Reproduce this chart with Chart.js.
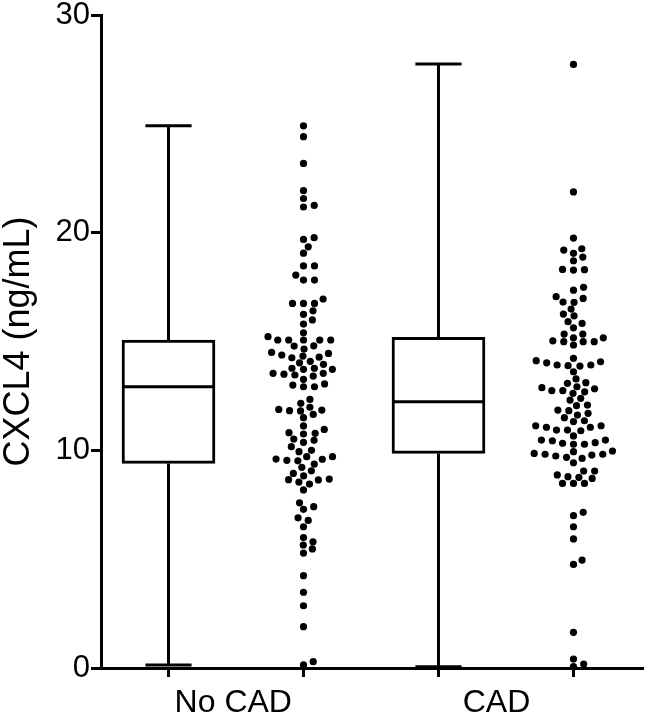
<!DOCTYPE html>
<html>
<head>
<meta charset="utf-8">
<script src="https://cdn.jsdelivr.net/npm/chart.js@4.4.1/dist/chart.umd.min.js"></script>
<style>
  html, body { margin: 0; padding: 0; background: #fff; }
  #wrap { width: 647px; height: 716px; }
</style>
</head>
<body>
<div id="wrap"><canvas id="grafico" width="647" height="716"></canvas></div>
<script>
// groups and box plot summaries (ng/mL)
const grupos = ['No CAD', 'CAD'];
const minimos = [0.14, 0.06];
const quartil1 = [9.40, 9.86];
const medianas = [12.92, 12.23];
const quartil3 = [15.07, 15.19];
const maximos = [24.91, 27.75];

// individual values
const pontosSemCad = [
    24.91, 24.41, 23.18, 21.93, 21.57, 21.25, 21.18,
    19.69, 19.77, 19.35, 19.06, 18.47, 18.47, 18.05, 17.82, 17.82,
    16.95, 16.75, 16.75, 16.75, 16.41, 16.25, 15.99, 15.80, 15.40, 15.22,
    15.07, 15.07, 15.07, 15.07, 15.07, 14.79, 14.80, 14.65, 14.50, 14.45, 14.33, 14.25, 14.28, 14.38,
    14.02, 13.95, 14.09, 13.77, 13.72, 13.72, 13.77,
    13.54, 13.46, 13.41, 13.50, 13.54, 13.26,
    13.05, 12.92, 12.92, 13.00, 12.34,
    12.16, 11.88, 11.82, 11.65, 11.50, 11.81, 11.85, 11.98,
    11.12, 10.81, 10.75, 10.96, 10.78, 10.52, 10.46, 10.37, 10.17,
    9.94, 10.00, 9.59, 9.54, 9.71, 9.71, 9.52, 9.60, 9.37, 9.22, 9.06, 8.94,
    8.64, 8.45, 8.68, 8.83, 8.54, 8.65, 8.18,
    7.59, 7.29, 7.41, 6.78, 6.90, 6.49,
    5.80, 5.99, 5.65, 5.47, 5.28,
    4.24, 3.48, 2.86, 1.90, 0.14, 0.29
];
const pontosCad = [
    27.73, 21.87, 19.75,
    19.20, 18.88, 19.05, 19.26, 18.71,
    18.30, 18.28, 18.31, 17.49, 17.36,
    16.98, 16.80, 17.06, 16.81, 16.49, 16.26, 16.18,
    15.83, 15.91, 15.63, 15.34, 15.34,
    15.17, 15.03, 14.99, 14.84, 14.99, 14.99, 15.17,
    14.23, 14.07, 13.92, 13.87, 14.12, 13.92, 13.89, 14.02,
    13.61, 13.28,
    13.08, 12.88, 12.74, 12.69, 12.62, 12.74, 12.83, 12.92, 13.11,
    12.31, 12.39, 12.05, 12.08,
    11.82, 11.62, 11.50, 11.70, 11.85,
    11.36, 11.13, 11.06, 10.93, 10.90, 10.93, 11.06, 11.13, 11.32,
    10.66, 10.47, 10.32, 10.28, 10.28, 10.35, 10.44, 10.47,
    9.97, 9.82, 9.78, 9.74, 9.63, 9.68, 9.43, 9.82, 9.86, 9.94,
    9.05, 9.05,
    8.87, 8.76, 8.48, 8.48, 8.48, 8.71, 8.79,
    7.15, 7.00, 6.49, 5.93, 4.76, 4.96,
    1.64, 0.41, 0.06, 0.18
];
const pontos = [pontosSemCad, pontosCad];

// where things sit on the x axis
const posCaixa = [1, 3];
const posPontos = [2, 4];
const posRotulo = [1.48, 3.43];
const meiaCaixa = 0.33;
const meiaTampa = 0.171;

const fonte = '"Liberation Sans", Arial, sans-serif';

function dadosBigodes() {
    const d = [];
    for (let i = 0; i < grupos.length; i++) {
        const p = posCaixa[i];
        d.push({ x: p, y: maximos[i] }, { x: p, y: quartil3[i] }, { x: p, y: null });
        d.push({ x: p, y: quartil1[i] }, { x: p, y: minimos[i] }, { x: p, y: null });
        d.push({ x: p - meiaTampa, y: maximos[i] }, { x: p + meiaTampa, y: maximos[i] }, { x: p, y: null });
        d.push({ x: p - meiaTampa, y: minimos[i] }, { x: p + meiaTampa, y: minimos[i] }, { x: p, y: null });
    }
    return d;
}

function dadosMedianas() {
    const d = [];
    for (let i = 0; i < grupos.length; i++) {
        const p = posCaixa[i];
        d.push({ x: p - meiaCaixa, y: medianas[i] }, { x: p + meiaCaixa, y: medianas[i] }, { x: p, y: null });
    }
    return d;
}

// beeswarm: push each dot sideways just enough to not overlap
function espalhar(valores, centro, escalaX, escalaY) {
    const dx = 11, dy = 7;
    const colocados = [];
    const ordem = valores.map((v, i) => i).sort((a, b) => valores[a] - valores[b]);
    const saida = [];
    const cx = escalaX.getPixelForValue(centro);
    for (const i of ordem) {
        const py = escalaY.getPixelForValue(valores[i]);
        const perto = colocados.filter(p => Math.abs(p.y - py) < dy);
        const candidatos = [0];
        perto.forEach(p => {
            const t = (p.y - py) / dy;
            const w = dx * Math.sqrt(1 - t * t);
            candidatos.push(p.x + w, p.x - w);
        });
        candidatos.sort((a, b) => Math.abs(a) - Math.abs(b));
        const x = candidatos.find(c => perto.every(p => ((p.x - c) / dx) ** 2 + ((p.y - py) / dy) ** 2 >= 0.999));
        colocados.push({ x: x, y: py });
        saida[i] = { x: escalaX.getValueForPixel(cx + x), y: valores[i] };
    }
    return saida;
}

const ctx = document.getElementById('grafico').getContext('2d');

const grafico = new Chart(ctx, {
    type: 'scatter',
    data: {
        datasets: [
            {
                type: 'bar',
                label: 'caixa',
                data: grupos.map((g, i) => ({ x: posCaixa[i], y: [quartil1[i], quartil3[i]] })),
                backgroundColor: '#ffffff',
                borderColor: '#000000',
                borderWidth: 3,
                borderSkipped: false,
                barThickness: 93,
                order: 3
            },
            {
                type: 'line',
                label: 'bigodes',
                data: dadosBigodes(),
                showLine: true,
                spanGaps: false,
                borderColor: '#000000',
                borderWidth: 3,
                pointRadius: 0,
                clip: false,
                order: 4
            },
            {
                type: 'line',
                label: 'medianas',
                data: dadosMedianas(),
                showLine: true,
                spanGaps: false,
                borderColor: '#000000',
                borderWidth: 3,
                pointRadius: 0,
                order: 2
            },
            {
                label: 'pontos',
                data: pontos.flatMap((vals, i) => vals.map(v => ({ x: posPontos[i], y: v }))),
                backgroundColor: '#000000',
                borderWidth: 0,
                pointRadius: 3.6,
                clip: false,
                order: 1
            }
        ]
    },
    options: {
        responsive: false,
        animation: false,
        layout: { padding: { top: 15, right: 0, bottom: 0, left: 0 } },
        plugins: {
            legend: { display: false },
            tooltip: { enabled: false }
        },
        scales: {
            x: {
                type: 'linear',
                position: 'bottom',
                min: 0.5,
                max: 4.515,
                offset: false,
                weight: 0,
                afterBuildTicks: s => { s.ticks = posCaixa.concat(posPontos).sort().map(v => ({ value: v })); },
                ticks: { display: false },
                grid: { offset: false, drawOnChartArea: false, drawTicks: true, tickLength: 9, tickWidth: 3, color: '#000000' },
                border: { display: true, width: 3, color: '#000000' }
            },
            rotulos: {
                type: 'linear',
                position: 'bottom',
                min: 0.5,
                max: 4.515,
                offset: false,
                weight: 1,
                afterBuildTicks: s => { s.ticks = posRotulo.map(v => ({ value: v })); },
                afterFit: s => { s.height = 39; },
                ticks: {
                    padding: -1,
                    color: '#000000',
                    font: { family: fonte, size: 32 },
                    maxRotation: 0,
                    callback: (v) => grupos[posRotulo.indexOf(v)]
                },
                grid: { display: false, offset: false },
                border: { display: false }
            },
            y: {
                type: 'linear',
                position: 'left',
                min: 0,
                max: 30,
                afterFit: s => { s.width = 101; s.paddingTop = 0; s.paddingBottom = 0; },
                ticks: {
                    stepSize: 10,
                    padding: 1,
                    color: '#000000',
                    font: { family: fonte, size: 31 }
                },
                grid: { drawOnChartArea: false, drawTicks: true, tickLength: 10, tickWidth: 3, color: '#000000' },
                border: { display: true, width: 3, color: '#000000' },
                title: {
                    display: true,
                    text: 'CXCL4 (ng/mL)',
                    color: '#000000',
                    padding: 0,
                    font: { family: fonte, size: 36, lineHeight: 1.05 }
                }
            }
        }
    }
});

// second pass: lay out the swarm now that the scales have pixels
grafico.data.datasets[3].data = pontos.flatMap((vals, i) => espalhar(vals, posPontos[i], grafico.scales.x, grafico.scales.y));
grafico.update('none');
</script>
</body>
</html>
